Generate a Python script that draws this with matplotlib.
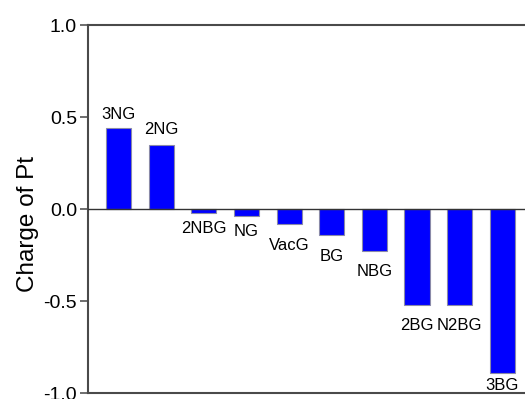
import matplotlib
matplotlib.use('Agg')
import matplotlib.pyplot as plt

# Charge on the Pt atom for each graphene support
supports = ['3NG', '2NG', '2NBG', 'NG', 'VacG', 'BG', 'NBG', '2BG', 'N2BG', '3BG']
charge = [0.44, 0.35, -0.02, -0.04, -0.08, -0.14, -0.23, -0.52, -0.52, -0.89]

# vertical shift (points) of each name from its bar end
label_shift = [9.5, 11, -11.5, -11, -16, -16, -14.5, -15, -15, -9.5]

plt.rcParams['font.family'] = ['Liberation Sans', 'DejaVu Sans']

fig = plt.figure(figsize=(5.25, 3.99), dpi=100)
ax = fig.add_axes([88 / 525, 6 / 399, 437 / 525, 368 / 399])

x = list(range(len(supports)))
ax.bar(x, charge, width=0.59, color='#0000ff', edgecolor='#8a8aa8', linewidth=0.8, zorder=2)
ax.axhline(0, color='#333333', linewidth=1.0, zorder=3)

for xi, name, val, dy in zip(x, supports, charge, label_shift):
    ax.annotate(name, (xi, val), xytext=(0, dy), textcoords='offset points',
                ha='center', va='center', fontsize=12)

ax.set_xlim(-0.715, 9.53)
ax.set_ylim(-1.0, 1.0)
ax.set_yticks([-1.0, -0.5, 0.0, 0.5, 1.0])
ax.set_yticklabels(['-1.0', '-0.5', '0.0', '0.5', '1.0'])
ax.set_xticks([])
ax.tick_params(axis='y', direction='out', length=6, width=1.2, color='#555555',
               labelsize=14, pad=2)

for side in ['left', 'top', 'bottom']:
    ax.spines[side].set_color('#4a4a4a')
    ax.spines[side].set_linewidth(1.5)
ax.spines['right'].set_visible(False)

ax.set_ylabel('Charge of Pt', fontsize=17.5)
ax.yaxis.set_label_coords(-0.113, 0.46)

fig.savefig('out.png', dpi=100)
